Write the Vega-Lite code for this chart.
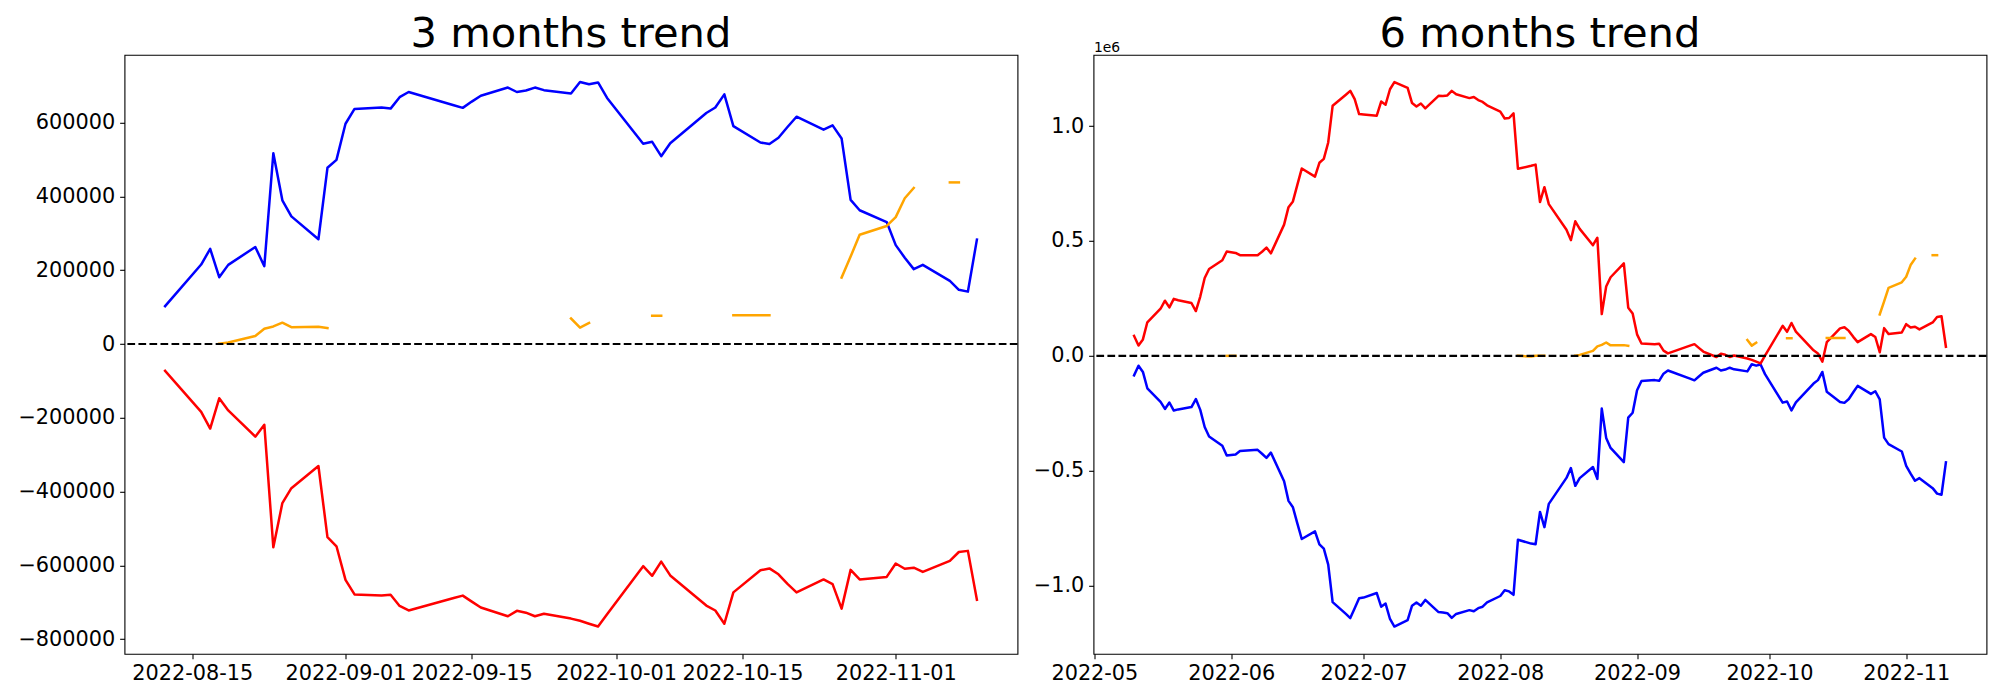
{
  "$schema": "https://vega.github.io/schema/vega-lite/v6.json",
  "padding": {"left": 16.5, "top": 12.8, "right": 14, "bottom": 5},
  "spacing": 76,
  "bounds": "flush",
  "config": {
    "font": "DejaVu Sans",
    "view": {"stroke": "black", "strokeWidth": 1.1},
    "axis": {"grid": false, "domain": false, "tickColor": "black", "tickWidth": 1.1, "tickSize": 4.86, "labelPadding": 4.86, "labelFontSize": 20.83, "labelColor": "black", "labelFont": "DejaVu Sans", "titleFont": "DejaVu Sans"},
    "title": {"fontSize": 41.67, "fontWeight": "normal", "color": "black", "font": "DejaVu Sans", "frame": "group", "anchor": "middle", "baseline": "alphabetic"}
  },
  "datasets": {
    "m3": [
      {"d":"2022-08-12","v":102600,"c":"blue","s":"blue"},{"d":"2022-08-16","v":215500,"c":"blue","s":"blue"},{"d":"2022-08-17","v":258000,"c":"blue","s":"blue"},{"d":"2022-08-18","v":181000,"c":"blue","s":"blue"},{"d":"2022-08-19","v":214500,"c":"blue","s":"blue"},{"d":"2022-08-22","v":263000,"c":"blue","s":"blue"},{"d":"2022-08-23","v":211000,"c":"blue","s":"blue"},{"d":"2022-08-24","v":517000,"c":"blue","s":"blue"},{"d":"2022-08-25","v":389500,"c":"blue","s":"blue"},{"d":"2022-08-26","v":346000,"c":"blue","s":"blue"},{"d":"2022-08-29","v":284000,"c":"blue","s":"blue"},{"d":"2022-08-30","v":477600,"c":"blue","s":"blue"},{"d":"2022-08-31","v":499000,"c":"blue","s":"blue"},
      {"d":"2022-09-01","v":597000,"c":"blue","s":"blue"},{"d":"2022-09-02","v":637000,"c":"blue","s":"blue"},{"d":"2022-09-05","v":641000,"c":"blue","s":"blue"},{"d":"2022-09-06","v":638000,"c":"blue","s":"blue"},{"d":"2022-09-07","v":669000,"c":"blue","s":"blue"},{"d":"2022-09-08","v":683000,"c":"blue","s":"blue"},{"d":"2022-09-13","v":647000,"c":"blue","s":"blue"},{"d":"2022-09-14","v":640000,"c":"blue","s":"blue"},{"d":"2022-09-15","v":657000,"c":"blue","s":"blue"},{"d":"2022-09-16","v":673000,"c":"blue","s":"blue"},{"d":"2022-09-19","v":695000,"c":"blue","s":"blue"},{"d":"2022-09-20","v":683000,"c":"blue","s":"blue"},{"d":"2022-09-21","v":687000,"c":"blue","s":"blue"},{"d":"2022-09-22","v":695000,"c":"blue","s":"blue"},{"d":"2022-09-23","v":688000,"c":"blue","s":"blue"},{"d":"2022-09-26","v":679000,"c":"blue","s":"blue"},{"d":"2022-09-27","v":710000,"c":"blue","s":"blue"},{"d":"2022-09-28","v":704000,"c":"blue","s":"blue"},{"d":"2022-09-29","v":709000,"c":"blue","s":"blue"},{"d":"2022-09-30","v":667000,"c":"blue","s":"blue"},
      {"d":"2022-10-04","v":543000,"c":"blue","s":"blue"},{"d":"2022-10-05","v":548000,"c":"blue","s":"blue"},{"d":"2022-10-06","v":509000,"c":"blue","s":"blue"},{"d":"2022-10-07","v":544000,"c":"blue","s":"blue"},{"d":"2022-10-11","v":626000,"c":"blue","s":"blue"},{"d":"2022-10-12","v":641000,"c":"blue","s":"blue"},{"d":"2022-10-13","v":676500,"c":"blue","s":"blue"},{"d":"2022-10-14","v":590500,"c":"blue","s":"blue"},{"d":"2022-10-17","v":546000,"c":"blue","s":"blue"},{"d":"2022-10-18","v":542000,"c":"blue","s":"blue"},{"d":"2022-10-19","v":559000,"c":"blue","s":"blue"},{"d":"2022-10-20","v":588000,"c":"blue","s":"blue"},{"d":"2022-10-21","v":616000,"c":"blue","s":"blue"},{"d":"2022-10-24","v":581000,"c":"blue","s":"blue"},{"d":"2022-10-25","v":592600,"c":"blue","s":"blue"},{"d":"2022-10-26","v":557000,"c":"blue","s":"blue"},{"d":"2022-10-27","v":390600,"c":"blue","s":"blue"},{"d":"2022-10-28","v":362600,"c":"blue","s":"blue"},{"d":"2022-10-31","v":330500,"c":"blue","s":"blue"},
      {"d":"2022-11-01","v":268000,"c":"blue","s":"blue"},{"d":"2022-11-02","v":234000,"c":"blue","s":"blue"},{"d":"2022-11-03","v":203000,"c":"blue","s":"blue"},{"d":"2022-11-04","v":214500,"c":"blue","s":"blue"},{"d":"2022-11-07","v":171000,"c":"blue","s":"blue"},{"d":"2022-11-08","v":147000,"c":"blue","s":"blue"},{"d":"2022-11-09","v":142000,"c":"blue","s":"blue"},{"d":"2022-11-10","v":283000,"c":"blue","s":"blue"},

      {"d":"2022-08-12","v":-72500,"c":"red","s":"red"},{"d":"2022-08-16","v":-184000,"c":"red","s":"red"},{"d":"2022-08-17","v":-229000,"c":"red","s":"red"},{"d":"2022-08-18","v":-147000,"c":"red","s":"red"},{"d":"2022-08-19","v":-180000,"c":"red","s":"red"},{"d":"2022-08-22","v":-251000,"c":"red","s":"red"},{"d":"2022-08-23","v":-218600,"c":"red","s":"red"},{"d":"2022-08-24","v":-551000,"c":"red","s":"red"},{"d":"2022-08-25","v":-431000,"c":"red","s":"red"},{"d":"2022-08-26","v":-390600,"c":"red","s":"red"},{"d":"2022-08-29","v":-330500,"c":"red","s":"red"},{"d":"2022-08-30","v":-523000,"c":"red","s":"red"},{"d":"2022-08-31","v":-548000,"c":"red","s":"red"},
      {"d":"2022-09-01","v":-639000,"c":"red","s":"red"},{"d":"2022-09-02","v":-678600,"c":"red","s":"red"},{"d":"2022-09-05","v":-681700,"c":"red","s":"red"},{"d":"2022-09-06","v":-679600,"c":"red","s":"red"},{"d":"2022-09-07","v":-709700,"c":"red","s":"red"},{"d":"2022-09-08","v":-722000,"c":"red","s":"red"},{"d":"2022-09-13","v":-688400,"c":"red","s":"red"},{"d":"2022-09-14","v":-681700,"c":"red","s":"red"},{"d":"2022-09-15","v":-698000,"c":"red","s":"red"},{"d":"2022-09-16","v":-714000,"c":"red","s":"red"},{"d":"2022-09-19","v":-737600,"c":"red","s":"red"},{"d":"2022-09-20","v":-723000,"c":"red","s":"red"},{"d":"2022-09-21","v":-728000,"c":"red","s":"red"},{"d":"2022-09-22","v":-737600,"c":"red","s":"red"},{"d":"2022-09-23","v":-731000,"c":"red","s":"red"},{"d":"2022-09-26","v":-744000,"c":"red","s":"red"},{"d":"2022-09-27","v":-750000,"c":"red","s":"red"},{"d":"2022-09-28","v":-758000,"c":"red","s":"red"},{"d":"2022-09-29","v":-765600,"c":"red","s":"red"},{"d":"2022-09-30","v":-732000,"c":"red","s":"red"},
      {"d":"2022-10-04","v":-602000,"c":"red","s":"red"},{"d":"2022-10-05","v":-628000,"c":"red","s":"red"},{"d":"2022-10-06","v":-589500,"c":"red","s":"red"},{"d":"2022-10-07","v":-627000,"c":"red","s":"red"},{"d":"2022-10-11","v":-708600,"c":"red","s":"red"},{"d":"2022-10-12","v":-722000,"c":"red","s":"red"},{"d":"2022-10-13","v":-758000,"c":"red","s":"red"},{"d":"2022-10-14","v":-673000,"c":"red","s":"red"},{"d":"2022-10-17","v":-613000,"c":"red","s":"red"},{"d":"2022-10-18","v":-608000,"c":"red","s":"red"},{"d":"2022-10-19","v":-624000,"c":"red","s":"red"},{"d":"2022-10-20","v":-650000,"c":"red","s":"red"},{"d":"2022-10-21","v":-673000,"c":"red","s":"red"},{"d":"2022-10-24","v":-638000,"c":"red","s":"red"},{"d":"2022-10-25","v":-650600,"c":"red","s":"red"},{"d":"2022-10-26","v":-717000,"c":"red","s":"red"},{"d":"2022-10-27","v":-612000,"c":"red","s":"red"},{"d":"2022-10-28","v":-638000,"c":"red","s":"red"},{"d":"2022-10-31","v":-631000,"c":"red","s":"red"},
      {"d":"2022-11-01","v":-594700,"c":"red","s":"red"},{"d":"2022-11-02","v":-609000,"c":"red","s":"red"},{"d":"2022-11-03","v":-606000,"c":"red","s":"red"},{"d":"2022-11-04","v":-617500,"c":"red","s":"red"},{"d":"2022-11-07","v":-587400,"c":"red","s":"red"},{"d":"2022-11-08","v":-563600,"c":"red","s":"red"},{"d":"2022-11-09","v":-560500,"c":"red","s":"red"},{"d":"2022-11-10","v":-693000,"c":"red","s":"red"},

      {"d":"2022-08-18","v":1000,"c":"orange","s":"oA"},{"d":"2022-08-19","v":4000,"c":"orange","s":"oA"},{"d":"2022-08-22","v":21800,"c":"orange","s":"oA"},{"d":"2022-08-23","v":41400,"c":"orange","s":"oA"},{"d":"2022-08-24","v":47700,"c":"orange","s":"oA"},{"d":"2022-08-25","v":58000,"c":"orange","s":"oA"},{"d":"2022-08-26","v":45600,"c":"orange","s":"oA"},{"d":"2022-08-29","v":46600,"c":"orange","s":"oA"},{"d":"2022-08-30","v":43500,"c":"orange","s":"oA"},
      {"d":"2022-09-26","v":69400,"c":"orange","s":"oB"},{"d":"2022-09-27","v":44500,"c":"orange","s":"oB"},{"d":"2022-09-28","v":57000,"c":"orange","s":"oB"},
      {"d":"2022-10-05","v":76700,"c":"orange","s":"oC"},{"d":"2022-10-06","v":76700,"c":"orange","s":"oC"},
      {"d":"2022-10-14","v":77700,"c":"orange","s":"oD"},{"d":"2022-10-17","v":77700,"c":"orange","s":"oD"},{"d":"2022-10-18","v":77700,"c":"orange","s":"oD"},
      {"d":"2022-10-26","v":180000,"c":"orange","s":"oE"},{"d":"2022-10-27","v":237000,"c":"orange","s":"oE"},{"d":"2022-10-28","v":296000,"c":"orange","s":"oE"},{"d":"2022-10-31","v":320000,"c":"orange","s":"oE"},{"d":"2022-11-01","v":344000,"c":"orange","s":"oE"},{"d":"2022-11-02","v":395000,"c":"orange","s":"oE"},{"d":"2022-11-03","v":423000,"c":"orange","s":"oE"},
      {"d":"2022-11-07","v":438000,"c":"orange","s":"oF"},{"d":"2022-11-08","v":438000,"c":"orange","s":"oF"}
    ],
    "m6": [
      {"d":"2022-05-10","v":-85000,"c":"blue","s":"blue"},{"d":"2022-05-11","v":-43000,"c":"blue","s":"blue"},{"d":"2022-05-12","v":-70000,"c":"blue","s":"blue"},{"d":"2022-05-13","v":-141000,"c":"blue","s":"blue"},{"d":"2022-05-16","v":-200000,"c":"blue","s":"blue"},{"d":"2022-05-17","v":-231000,"c":"blue","s":"blue"},{"d":"2022-05-18","v":-203000,"c":"blue","s":"blue"},{"d":"2022-05-19","v":-238000,"c":"blue","s":"blue"},{"d":"2022-05-20","v":-233000,"c":"blue","s":"blue"},{"d":"2022-05-23","v":-223000,"c":"blue","s":"blue"},{"d":"2022-05-24","v":-188000,"c":"blue","s":"blue"},{"d":"2022-05-25","v":-235000,"c":"blue","s":"blue"},{"d":"2022-05-26","v":-309500,"c":"blue","s":"blue"},{"d":"2022-05-27","v":-351000,"c":"blue","s":"blue"},{"d":"2022-05-30","v":-391000,"c":"blue","s":"blue"},{"d":"2022-05-31","v":-434000,"c":"blue","s":"blue"},
      {"d":"2022-06-02","v":-429000,"c":"blue","s":"blue"},{"d":"2022-06-03","v":-414000,"c":"blue","s":"blue"},{"d":"2022-06-07","v":-409000,"c":"blue","s":"blue"},{"d":"2022-06-08","v":-426000,"c":"blue","s":"blue"},{"d":"2022-06-09","v":-444000,"c":"blue","s":"blue"},{"d":"2022-06-10","v":-421000,"c":"blue","s":"blue"},{"d":"2022-06-13","v":-546000,"c":"blue","s":"blue"},{"d":"2022-06-14","v":-631000,"c":"blue","s":"blue"},{"d":"2022-06-15","v":-659000,"c":"blue","s":"blue"},{"d":"2022-06-16","v":-729000,"c":"blue","s":"blue"},{"d":"2022-06-17","v":-797000,"c":"blue","s":"blue"},{"d":"2022-06-20","v":-764000,"c":"blue","s":"blue"},{"d":"2022-06-21","v":-820000,"c":"blue","s":"blue"},{"d":"2022-06-22","v":-839000,"c":"blue","s":"blue"},{"d":"2022-06-23","v":-908500,"c":"blue","s":"blue"},{"d":"2022-06-24","v":-1071600,"c":"blue","s":"blue"},{"d":"2022-06-27","v":-1123000,"c":"blue","s":"blue"},{"d":"2022-06-28","v":-1141000,"c":"blue","s":"blue"},{"d":"2022-06-29","v":-1098000,"c":"blue","s":"blue"},{"d":"2022-06-30","v":-1055000,"c":"blue","s":"blue"},
      {"d":"2022-07-01","v":-1052000,"c":"blue","s":"blue"},{"d":"2022-07-04","v":-1032000,"c":"blue","s":"blue"},{"d":"2022-07-05","v":-1091600,"c":"blue","s":"blue"},{"d":"2022-07-06","v":-1078000,"c":"blue","s":"blue"},{"d":"2022-07-07","v":-1145000,"c":"blue","s":"blue"},{"d":"2022-07-08","v":-1178000,"c":"blue","s":"blue"},{"d":"2022-07-11","v":-1150000,"c":"blue","s":"blue"},{"d":"2022-07-12","v":-1087000,"c":"blue","s":"blue"},{"d":"2022-07-13","v":-1073000,"c":"blue","s":"blue"},{"d":"2022-07-14","v":-1087000,"c":"blue","s":"blue"},{"d":"2022-07-15","v":-1062000,"c":"blue","s":"blue"},{"d":"2022-07-18","v":-1115000,"c":"blue","s":"blue"},{"d":"2022-07-19","v":-1117000,"c":"blue","s":"blue"},{"d":"2022-07-20","v":-1120000,"c":"blue","s":"blue"},{"d":"2022-07-21","v":-1140000,"c":"blue","s":"blue"},{"d":"2022-07-22","v":-1123000,"c":"blue","s":"blue"},{"d":"2022-07-25","v":-1106600,"c":"blue","s":"blue"},{"d":"2022-07-26","v":-1111500,"c":"blue","s":"blue"},{"d":"2022-07-27","v":-1098000,"c":"blue","s":"blue"},{"d":"2022-07-28","v":-1091600,"c":"blue","s":"blue"},{"d":"2022-07-29","v":-1073000,"c":"blue","s":"blue"},
      {"d":"2022-08-01","v":-1045000,"c":"blue","s":"blue"},{"d":"2022-08-02","v":-1020000,"c":"blue","s":"blue"},{"d":"2022-08-03","v":-1025000,"c":"blue","s":"blue"},{"d":"2022-08-04","v":-1040000,"c":"blue","s":"blue"},{"d":"2022-08-05","v":-800000,"c":"blue","s":"blue"},{"d":"2022-08-08","v":-817000,"c":"blue","s":"blue"},{"d":"2022-08-09","v":-820000,"c":"blue","s":"blue"},{"d":"2022-08-10","v":-679000,"c":"blue","s":"blue"},{"d":"2022-08-11","v":-745500,"c":"blue","s":"blue"},
      {"d":"2022-08-12","v":-644000,"c":"blue","s":"blue"},{"d":"2022-08-16","v":-531100,"c":"blue","s":"blue"},{"d":"2022-08-17","v":-488600,"c":"blue","s":"blue"},{"d":"2022-08-18","v":-565600,"c":"blue","s":"blue"},{"d":"2022-08-19","v":-532100,"c":"blue","s":"blue"},{"d":"2022-08-22","v":-483600,"c":"blue","s":"blue"},{"d":"2022-08-23","v":-535600,"c":"blue","s":"blue"},{"d":"2022-08-24","v":-229600,"c":"blue","s":"blue"},{"d":"2022-08-25","v":-357100,"c":"blue","s":"blue"},{"d":"2022-08-26","v":-400600,"c":"blue","s":"blue"},{"d":"2022-08-29","v":-462600,"c":"blue","s":"blue"},{"d":"2022-08-30","v":-269000,"c":"blue","s":"blue"},{"d":"2022-08-31","v":-247600,"c":"blue","s":"blue"},
      {"d":"2022-09-01","v":-149600,"c":"blue","s":"blue"},{"d":"2022-09-02","v":-109600,"c":"blue","s":"blue"},{"d":"2022-09-05","v":-105600,"c":"blue","s":"blue"},{"d":"2022-09-06","v":-108600,"c":"blue","s":"blue"},{"d":"2022-09-07","v":-77600,"c":"blue","s":"blue"},{"d":"2022-09-08","v":-63600,"c":"blue","s":"blue"},{"d":"2022-09-13","v":-99400,"c":"blue","s":"blue"},{"d":"2022-09-14","v":-106600,"c":"blue","s":"blue"},{"d":"2022-09-15","v":-89600,"c":"blue","s":"blue"},{"d":"2022-09-16","v":-73600,"c":"blue","s":"blue"},{"d":"2022-09-19","v":-51600,"c":"blue","s":"blue"},{"d":"2022-09-20","v":-63600,"c":"blue","s":"blue"},{"d":"2022-09-21","v":-59600,"c":"blue","s":"blue"},{"d":"2022-09-22","v":-51600,"c":"blue","s":"blue"},{"d":"2022-09-23","v":-58600,"c":"blue","s":"blue"},{"d":"2022-09-26","v":-67600,"c":"blue","s":"blue"},{"d":"2022-09-27","v":-36600,"c":"blue","s":"blue"},{"d":"2022-09-28","v":-42600,"c":"blue","s":"blue"},{"d":"2022-09-29","v":-37600,"c":"blue","s":"blue"},{"d":"2022-09-30","v":-79600,"c":"blue","s":"blue"},
      {"d":"2022-10-04","v":-203600,"c":"blue","s":"blue"},{"d":"2022-10-05","v":-198600,"c":"blue","s":"blue"},{"d":"2022-10-06","v":-237600,"c":"blue","s":"blue"},{"d":"2022-10-07","v":-202600,"c":"blue","s":"blue"},{"d":"2022-10-11","v":-120600,"c":"blue","s":"blue"},{"d":"2022-10-12","v":-105600,"c":"blue","s":"blue"},{"d":"2022-10-13","v":-70100,"c":"blue","s":"blue"},{"d":"2022-10-14","v":-156100,"c":"blue","s":"blue"},{"d":"2022-10-17","v":-200600,"c":"blue","s":"blue"},{"d":"2022-10-18","v":-204600,"c":"blue","s":"blue"},{"d":"2022-10-19","v":-187600,"c":"blue","s":"blue"},{"d":"2022-10-20","v":-158600,"c":"blue","s":"blue"},{"d":"2022-10-21","v":-130600,"c":"blue","s":"blue"},{"d":"2022-10-24","v":-165600,"c":"blue","s":"blue"},{"d":"2022-10-25","v":-154000,"c":"blue","s":"blue"},{"d":"2022-10-26","v":-189600,"c":"blue","s":"blue"},{"d":"2022-10-27","v":-356000,"c":"blue","s":"blue"},{"d":"2022-10-28","v":-384000,"c":"blue","s":"blue"},{"d":"2022-10-31","v":-416100,"c":"blue","s":"blue"},
      {"d":"2022-11-01","v":-478600,"c":"blue","s":"blue"},{"d":"2022-11-02","v":-512600,"c":"blue","s":"blue"},{"d":"2022-11-03","v":-543600,"c":"blue","s":"blue"},{"d":"2022-11-04","v":-532100,"c":"blue","s":"blue"},{"d":"2022-11-07","v":-575600,"c":"blue","s":"blue"},{"d":"2022-11-08","v":-599600,"c":"blue","s":"blue"},{"d":"2022-11-09","v":-604600,"c":"blue","s":"blue"},{"d":"2022-11-10","v":-463600,"c":"blue","s":"blue"},

      {"d":"2022-05-10","v":86500,"c":"red","s":"red"},{"d":"2022-05-11","v":45000,"c":"red","s":"red"},{"d":"2022-05-12","v":71600,"c":"red","s":"red"},{"d":"2022-05-13","v":146000,"c":"red","s":"red"},{"d":"2022-05-16","v":205000,"c":"red","s":"red"},{"d":"2022-05-17","v":240000,"c":"red","s":"red"},{"d":"2022-05-18","v":211000,"c":"red","s":"red"},{"d":"2022-05-19","v":248000,"c":"red","s":"red"},{"d":"2022-05-20","v":242000,"c":"red","s":"red"},{"d":"2022-05-23","v":230000,"c":"red","s":"red"},{"d":"2022-05-24","v":195000,"c":"red","s":"red"},{"d":"2022-05-25","v":258000,"c":"red","s":"red"},{"d":"2022-05-26","v":339000,"c":"red","s":"red"},{"d":"2022-05-27","v":378000,"c":"red","s":"red"},{"d":"2022-05-30","v":416000,"c":"red","s":"red"},{"d":"2022-05-31","v":454000,"c":"red","s":"red"},
      {"d":"2022-06-02","v":448000,"c":"red","s":"red"},{"d":"2022-06-03","v":438000,"c":"red","s":"red"},{"d":"2022-06-07","v":438000,"c":"red","s":"red"},{"d":"2022-06-08","v":453000,"c":"red","s":"red"},{"d":"2022-06-09","v":471000,"c":"red","s":"red"},{"d":"2022-06-10","v":446000,"c":"red","s":"red"},{"d":"2022-06-13","v":571000,"c":"red","s":"red"},{"d":"2022-06-14","v":647000,"c":"red","s":"red"},{"d":"2022-06-15","v":672000,"c":"red","s":"red"},{"d":"2022-06-16","v":744000,"c":"red","s":"red"},{"d":"2022-06-17","v":815000,"c":"red","s":"red"},{"d":"2022-06-20","v":780000,"c":"red","s":"red"},{"d":"2022-06-21","v":840000,"c":"red","s":"red"},{"d":"2022-06-22","v":857000,"c":"red","s":"red"},{"d":"2022-06-23","v":928500,"c":"red","s":"red"},{"d":"2022-06-24","v":1088000,"c":"red","s":"red"},{"d":"2022-06-27","v":1136500,"c":"red","s":"red"},{"d":"2022-06-28","v":1153000,"c":"red","s":"red"},{"d":"2022-06-29","v":1117000,"c":"red","s":"red"},{"d":"2022-06-30","v":1052000,"c":"red","s":"red"},
      {"d":"2022-07-01","v":1050000,"c":"red","s":"red"},{"d":"2022-07-04","v":1045000,"c":"red","s":"red"},{"d":"2022-07-05","v":1106600,"c":"red","s":"red"},{"d":"2022-07-06","v":1093000,"c":"red","s":"red"},{"d":"2022-07-07","v":1160000,"c":"red","s":"red"},{"d":"2022-07-08","v":1191500,"c":"red","s":"red"},{"d":"2022-07-11","v":1166000,"c":"red","s":"red"},{"d":"2022-07-12","v":1100000,"c":"red","s":"red"},{"d":"2022-07-13","v":1085000,"c":"red","s":"red"},{"d":"2022-07-14","v":1098000,"c":"red","s":"red"},{"d":"2022-07-15","v":1077000,"c":"red","s":"red"},{"d":"2022-07-18","v":1131500,"c":"red","s":"red"},{"d":"2022-07-19","v":1131000,"c":"red","s":"red"},{"d":"2022-07-20","v":1133000,"c":"red","s":"red"},{"d":"2022-07-21","v":1153000,"c":"red","s":"red"},{"d":"2022-07-22","v":1138000,"c":"red","s":"red"},{"d":"2022-07-25","v":1121500,"c":"red","s":"red"},{"d":"2022-07-26","v":1126500,"c":"red","s":"red"},{"d":"2022-07-27","v":1113000,"c":"red","s":"red"},{"d":"2022-07-28","v":1105000,"c":"red","s":"red"},{"d":"2022-07-29","v":1090000,"c":"red","s":"red"},
      {"d":"2022-08-01","v":1063000,"c":"red","s":"red"},{"d":"2022-08-02","v":1033000,"c":"red","s":"red"},{"d":"2022-08-03","v":1035000,"c":"red","s":"red"},{"d":"2022-08-04","v":1055000,"c":"red","s":"red"},{"d":"2022-08-05","v":814000,"c":"red","s":"red"},{"d":"2022-08-08","v":827000,"c":"red","s":"red"},{"d":"2022-08-09","v":832000,"c":"red","s":"red"},{"d":"2022-08-10","v":669000,"c":"red","s":"red"},{"d":"2022-08-11","v":734000,"c":"red","s":"red"},
      {"d":"2022-08-12","v":660100,"c":"red","s":"red"},{"d":"2022-08-16","v":548600,"c":"red","s":"red"},{"d":"2022-08-17","v":503600,"c":"red","s":"red"},{"d":"2022-08-18","v":585600,"c":"red","s":"red"},{"d":"2022-08-19","v":552600,"c":"red","s":"red"},{"d":"2022-08-22","v":481600,"c":"red","s":"red"},{"d":"2022-08-23","v":514000,"c":"red","s":"red"},{"d":"2022-08-24","v":181600,"c":"red","s":"red"},{"d":"2022-08-25","v":301600,"c":"red","s":"red"},{"d":"2022-08-26","v":342000,"c":"red","s":"red"},{"d":"2022-08-29","v":402100,"c":"red","s":"red"},{"d":"2022-08-30","v":209600,"c":"red","s":"red"},{"d":"2022-08-31","v":184600,"c":"red","s":"red"},
      {"d":"2022-09-01","v":93600,"c":"red","s":"red"},{"d":"2022-09-02","v":54000,"c":"red","s":"red"},{"d":"2022-09-05","v":50900,"c":"red","s":"red"},{"d":"2022-09-06","v":53000,"c":"red","s":"red"},{"d":"2022-09-07","v":22900,"c":"red","s":"red"},{"d":"2022-09-08","v":10600,"c":"red","s":"red"},{"d":"2022-09-13","v":44200,"c":"red","s":"red"},{"d":"2022-09-14","v":50900,"c":"red","s":"red"},{"d":"2022-09-15","v":34600,"c":"red","s":"red"},{"d":"2022-09-16","v":18600,"c":"red","s":"red"},{"d":"2022-09-19","v":-5000,"c":"red","s":"red"},{"d":"2022-09-20","v":9600,"c":"red","s":"red"},{"d":"2022-09-21","v":4600,"c":"red","s":"red"},{"d":"2022-09-22","v":-5000,"c":"red","s":"red"},{"d":"2022-09-23","v":1600,"c":"red","s":"red"},{"d":"2022-09-26","v":-11400,"c":"red","s":"red"},{"d":"2022-09-27","v":-17400,"c":"red","s":"red"},{"d":"2022-09-28","v":-25400,"c":"red","s":"red"},{"d":"2022-09-29","v":-33000,"c":"red","s":"red"},{"d":"2022-09-30","v":600,"c":"red","s":"red"},
      {"d":"2022-10-04","v":130600,"c":"red","s":"red"},{"d":"2022-10-05","v":104600,"c":"red","s":"red"},{"d":"2022-10-06","v":143100,"c":"red","s":"red"},{"d":"2022-10-07","v":105600,"c":"red","s":"red"},{"d":"2022-10-11","v":24000,"c":"red","s":"red"},{"d":"2022-10-12","v":10600,"c":"red","s":"red"},{"d":"2022-10-13","v":-25400,"c":"red","s":"red"},{"d":"2022-10-14","v":59600,"c":"red","s":"red"},{"d":"2022-10-17","v":119600,"c":"red","s":"red"},{"d":"2022-10-18","v":124600,"c":"red","s":"red"},{"d":"2022-10-19","v":108600,"c":"red","s":"red"},{"d":"2022-10-20","v":82600,"c":"red","s":"red"},{"d":"2022-10-21","v":59600,"c":"red","s":"red"},{"d":"2022-10-24","v":94600,"c":"red","s":"red"},{"d":"2022-10-25","v":82000,"c":"red","s":"red"},{"d":"2022-10-26","v":15600,"c":"red","s":"red"},{"d":"2022-10-27","v":120600,"c":"red","s":"red"},{"d":"2022-10-28","v":94600,"c":"red","s":"red"},{"d":"2022-10-31","v":101600,"c":"red","s":"red"},
      {"d":"2022-11-01","v":137900,"c":"red","s":"red"},{"d":"2022-11-02","v":123600,"c":"red","s":"red"},{"d":"2022-11-03","v":126600,"c":"red","s":"red"},{"d":"2022-11-04","v":115100,"c":"red","s":"red"},{"d":"2022-11-07","v":145200,"c":"red","s":"red"},{"d":"2022-11-08","v":169000,"c":"red","s":"red"},{"d":"2022-11-09","v":172100,"c":"red","s":"red"},{"d":"2022-11-10","v":39600,"c":"red","s":"red"},

      {"d":"2022-05-31","v":0,"c":"orange","s":"o1"},{"d":"2022-06-02","v":0,"c":"orange","s":"o1"},
      {"d":"2022-08-05","v":0,"c":"orange","s":"o2"},{"d":"2022-08-08","v":-3000,"c":"orange","s":"o2"},{"d":"2022-08-09","v":0,"c":"orange","s":"o2"},{"d":"2022-08-10","v":0,"c":"orange","s":"o2"},{"d":"2022-08-11","v":0,"c":"orange","s":"o2"},
      {"d":"2022-08-18","v":1000,"c":"orange","s":"oA"},{"d":"2022-08-19","v":4000,"c":"orange","s":"oA"},{"d":"2022-08-22","v":21800,"c":"orange","s":"oA"},{"d":"2022-08-23","v":41400,"c":"orange","s":"oA"},{"d":"2022-08-24","v":47700,"c":"orange","s":"oA"},{"d":"2022-08-25","v":58000,"c":"orange","s":"oA"},{"d":"2022-08-26","v":45600,"c":"orange","s":"oA"},{"d":"2022-08-29","v":46600,"c":"orange","s":"oA"},{"d":"2022-08-30","v":43500,"c":"orange","s":"oA"},
      {"d":"2022-09-26","v":69400,"c":"orange","s":"oB"},{"d":"2022-09-27","v":44500,"c":"orange","s":"oB"},{"d":"2022-09-28","v":57000,"c":"orange","s":"oB"},
      {"d":"2022-10-05","v":76700,"c":"orange","s":"oC"},{"d":"2022-10-06","v":76700,"c":"orange","s":"oC"},
      {"d":"2022-10-14","v":77700,"c":"orange","s":"oD"},{"d":"2022-10-17","v":77700,"c":"orange","s":"oD"},{"d":"2022-10-18","v":77700,"c":"orange","s":"oD"},
      {"d":"2022-10-26","v":180000,"c":"orange","s":"oE"},{"d":"2022-10-27","v":237000,"c":"orange","s":"oE"},{"d":"2022-10-28","v":296000,"c":"orange","s":"oE"},{"d":"2022-10-31","v":320000,"c":"orange","s":"oE"},{"d":"2022-11-01","v":344000,"c":"orange","s":"oE"},{"d":"2022-11-02","v":395000,"c":"orange","s":"oE"},{"d":"2022-11-03","v":423000,"c":"orange","s":"oE"},
      {"d":"2022-11-07","v":438000,"c":"orange","s":"oF"},{"d":"2022-11-08","v":438000,"c":"orange","s":"oF"}
    ]
  },
  "hconcat": [
    {
      "width": 893,
      "height": 599,
      "title": {"text": "3 months trend", "offset": -1.2},
      "layer": [
        {
          "data": {"name": "m3"},
          "mark": {"type": "line", "strokeWidth": 2.5, "strokeJoin": "round", "strokeCap": "square"},
          "encoding": {
            "x": {"field": "d", "type": "temporal",
              "scale": {"type": "utc", "nice": false, "domain": [{"year": 2022, "month": 8, "date": 7, "hours": 12, "utc": true}, {"year": 2022, "month": 11, "date": 14, "hours": 12, "utc": true}]},
              "axis": {"title": null, "format": "%Y-%m-%d", "labelAngle": 0, "labelFlush": false, "labelOverlap": false,
                "values": [{"year": 2022, "month": 8, "date": 15, "utc": true}, {"year": 2022, "month": 9, "date": 1, "utc": true}, {"year": 2022, "month": 9, "date": 15, "utc": true}, {"year": 2022, "month": 10, "date": 1, "utc": true}, {"year": 2022, "month": 10, "date": 15, "utc": true}, {"year": 2022, "month": 11, "date": 1, "utc": true}]}},
            "y": {"field": "v", "type": "quantitative",
              "scale": {"domain": [-839400, 783800], "nice": false, "zero": false},
              "axis": {"title": null, "format": "d", "values": [-800000, -600000, -400000, -200000, 0, 200000, 400000, 600000]}},
            "color": {"field": "c", "type": "nominal", "scale": null},
            "detail": {"field": "s", "type": "nominal"}
          }
        },
        {
          "data": {"values": [{"z": 0}]},
          "mark": {"type": "rule", "color": "black", "strokeWidth": 2.1, "strokeDash": [7.7, 3.33]},
          "encoding": {"y": {"field": "z", "type": "quantitative"}}
        }
      ]
    },
    {
      "width": 893,
      "height": 599,
      "title": {"text": "6 months trend", "offset": -15},
      "layer": [
        {
          "data": {"name": "m6"},
          "mark": {"type": "line", "strokeWidth": 2.5, "strokeJoin": "round", "strokeCap": "square"},
          "encoding": {
            "x": {"field": "d", "type": "temporal",
              "scale": {"type": "utc", "nice": false, "domain": [{"year": 2022, "month": 4, "date": 30, "hours": 19, "minutes": 12, "utc": true}, {"year": 2022, "month": 11, "date": 19, "hours": 4, "minutes": 48, "utc": true}]},
              "axis": {"title": null, "format": "%Y-%m", "labelAngle": 0, "labelFlush": false, "labelOverlap": false,
                "values": [{"year": 2022, "month": 5, "date": 1, "utc": true}, {"year": 2022, "month": 6, "date": 1, "utc": true}, {"year": 2022, "month": 7, "date": 1, "utc": true}, {"year": 2022, "month": 8, "date": 1, "utc": true}, {"year": 2022, "month": 9, "date": 1, "utc": true}, {"year": 2022, "month": 10, "date": 1, "utc": true}, {"year": 2022, "month": 11, "date": 1, "utc": true}]}},
            "y": {"field": "v", "type": "quantitative",
              "scale": {"domain": [-1296500, 1310000], "nice": false, "zero": false},
              "axis": {"title": "1e6", "titleAngle": 0, "titleAlign": "left", "titleBaseline": "alphabetic", "titleX": 0, "titleY": -3.3, "titleFontSize": 13.9, "titleFontWeight": "normal", "titleColor": "black", "titlePadding": 0,
                "values": [-1000000, -500000, 0, 500000, 1000000], "labelExpr": "format(datum.value / 1000000, '.1f')"}},
            "color": {"field": "c", "type": "nominal", "scale": null},
            "detail": {"field": "s", "type": "nominal"}
          }
        },
        {
          "data": {"values": [{"z": 0}]},
          "mark": {"type": "rule", "color": "black", "strokeWidth": 2.1, "strokeDash": [7.7, 3.33]},
          "encoding": {"y": {"field": "z", "type": "quantitative"}}
        }
      ]
    }
  ]
}
